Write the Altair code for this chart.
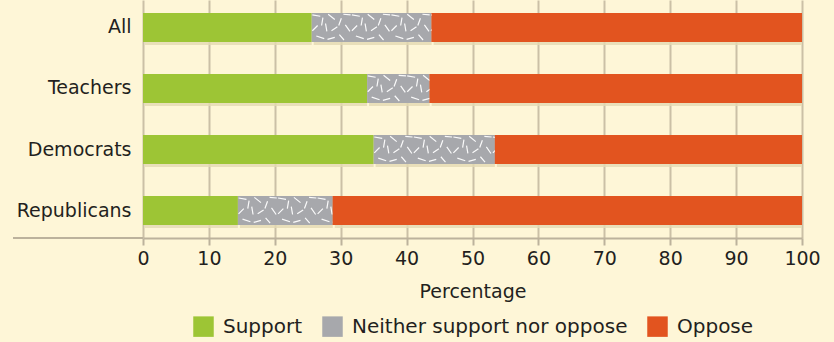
import altair as alt
import pandas as pd

# Survey responses by group (percent)
groups = ["All", "Teachers", "Democrats", "Republicans"]
support = [25.6, 34, 35, 14.4]
neither = [18.2, 9.5, 18.4, 14.4]
oppose = [56.2, 56.5, 46.6, 71.2]

responses = ["Support", "Neither support nor oppose", "Oppose"]
colors = ["#9DC535", "#A7A8AC", "#E2541F"]
x_ticks = list(range(0, 101, 10))

# Stacked segment table
rows = []
for g, s, n, o in zip(groups, support, neither, oppose):
    start = 0
    for r, v in zip(responses, (s, n, o)):
        rows.append({"group": g, "response": r, "start": start, "end": start + v, "value": v})
        start += v
bars = pd.DataFrame(rows)

# Dash texture tiles laid across each neutral segment (2 units per tile)
tile_names = ["a", "b", "c"]
tile_paths = [
    "M-0.9,-1.9L0.3,-1.7M0.7,-1.5L0.5,-0.3M-0.9,0.5L-0.1,-0.3M-0.3,1.3L0.9,1.7",
    "M-0.5,-2.0L0.5,-1.2M-0.9,-0.6L-0.7,0.6M0.0,0.5L0.9,-0.1M-0.6,1.8L0.5,1.5",
    "M-0.2,-2.0L0.9,-1.9M-0.5,-1.4L-0.9,-0.3M0.1,-0.4L0.8,0.6M-0.8,1.1L-0.1,1.9",
]
tile_rows = []
for g, s, n in zip(groups, support, neither):
    c, k = s + 1, 0
    while c - 1 < s + n:
        tile_rows.append({"group": g, "center": c, "tile": tile_names[k % 3]})
        c += 2
        k += 1
tiles = pd.DataFrame(tile_rows)

y_enc = alt.Y(
    "group:N",
    sort=groups,
    title=None,
    scale=alt.Scale(paddingInner=0.525, paddingOuter=0.2125),
    axis=alt.Axis(domain=False, ticks=False, labelPadding=12, labelFontSize=19,
                  labelColor="#231F20", labelFont="DejaVu Sans"),
)
x_scale = alt.Scale(domain=[0, 100], nice=False)

shadow = alt.Chart(bars).mark_bar(color="#E4D9B3", opacity=0.8, yOffset=3, xOffset=2).encode(
    x=alt.X("start:Q", scale=x_scale),
    x2="end:Q",
    y=y_enc,
)

segments = alt.Chart(bars).mark_bar().encode(
    x=alt.X(
        "start:Q",
        scale=x_scale,
        title="Percentage",
        axis=alt.Axis(values=x_ticks, grid=True, gridColor="#CBC0A6", gridWidth=2,
                      domainColor="#BCB29C", domainWidth=2, tickColor="#BCB29C",
                      tickWidth=2, tickSize=7, labelFontSize=19, labelColor="#231F20",
                      labelPadding=4, labelFlush=False, labelFont="DejaVu Sans",
                      titleFont="DejaVu Sans", titleFontSize=19, titleFontWeight="normal",
                      titleColor="#231F20", titlePadding=14),
    ),
    x2="end:Q",
    y=y_enc,
    color=alt.Color(
        "response:N",
        scale=alt.Scale(domain=responses, range=colors),
        sort=responses,
        legend=alt.Legend(
            title=None, orient="none", legendX=50, legendY=316, direction="horizontal",
            symbolType="square", symbolSize=420, symbolStrokeWidth=0, symbolOpacity=1,
            labelFontSize=20, labelFont="DejaVu Sans", labelColor="#231F20",
            labelOffset=9, labelLimit=500, columnPadding=19, padding=0,
        ),
    ),
)

texture = alt.Chart(tiles).mark_point(
    filled=False, stroke="white", strokeWidth=1.2, size=174, opacity=0.95
).encode(
    x=alt.X("center:Q", scale=x_scale),
    y=y_enc,
    shape=alt.Shape("tile:N", scale=alt.Scale(domain=tile_names, range=tile_paths), legend=None),
)

# Oppose segment redrawn on top to trim texture overrun at the neutral segment's end
oppose_top = alt.Chart(bars).transform_filter(
    alt.datum.response == "Oppose"
).mark_bar(color=colors[2]).encode(
    x=alt.X("start:Q", scale=x_scale),
    x2="end:Q",
    y=y_enc,
)

baseline = alt.Chart(pd.DataFrame({"k": [0]})).mark_rule(
    color="#BCB29C", strokeWidth=2
).encode(x=alt.value(-130), x2=alt.value(0), y=alt.value(238))

chart = alt.layer(shadow, segments, texture, oppose_top, baseline).properties(
    width=659,
    height=238,
    autosize=alt.AutoSizeParams(type="none"),
    padding={"left": 143, "top": 0, "right": 32, "bottom": 104},
    background="#FEF6D7",
).configure_view(stroke=None).configure_axis(labelFont="DejaVu Sans")

chart.save("out.html", embed_options={"renderer": "svg", "actions": False})
